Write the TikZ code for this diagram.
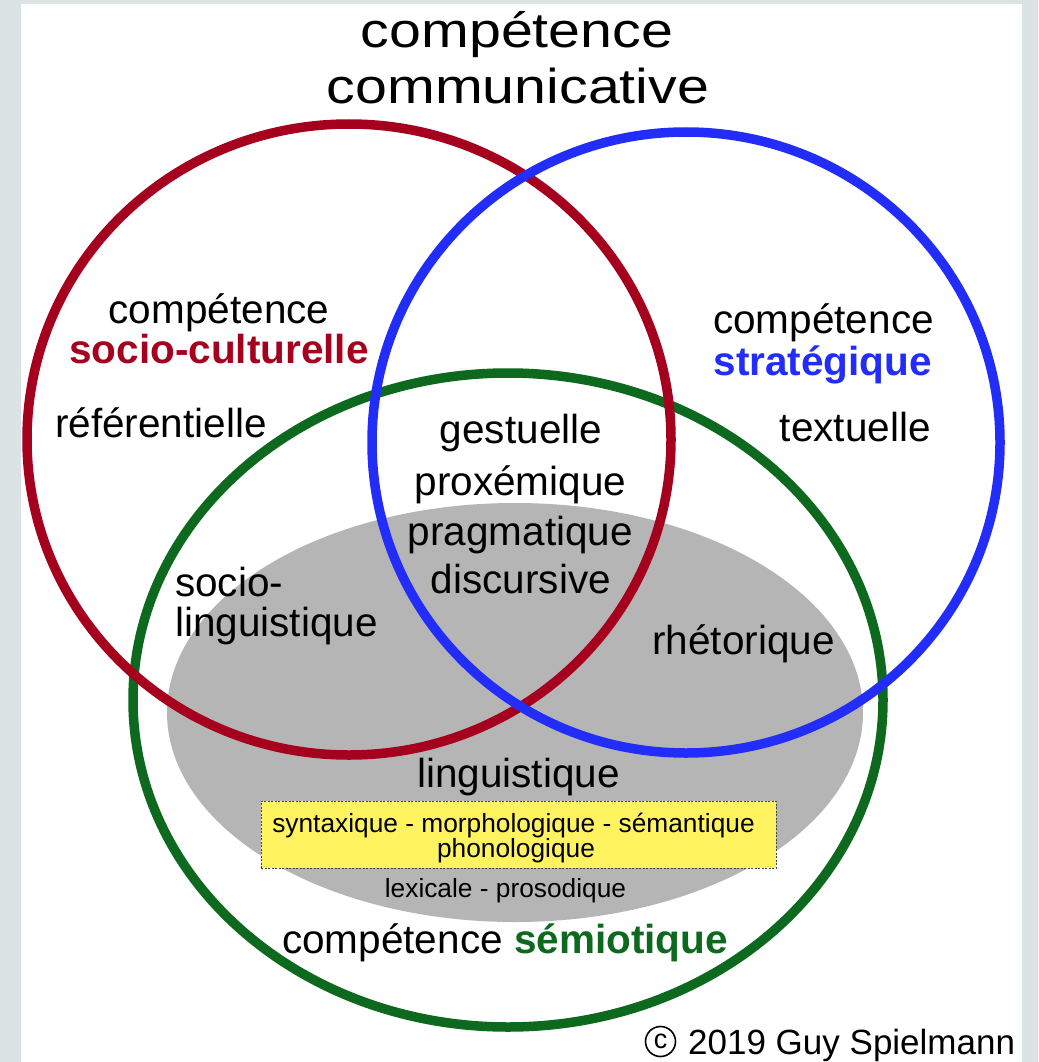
\documentclass[tikz,border=0pt]{standalone}
\usepackage{fontspec}
\setmainfont{Liberation Sans}
\usepackage{graphicx}

\definecolor{frame}{RGB}{220,227,229}
\definecolor{socred}{RGB}{165,0,30}
\definecolor{strblue}{RGB}{35,45,250}
\definecolor{semgreen}{RGB}{12,105,30}
\definecolor{lingray}{RGB}{181,181,181}
\definecolor{boxyellow}{RGB}{255,244,95}
\definecolor{boxedge}{RGB}{70,70,50}

\begin{document}
\begin{tikzpicture}[x=1pt,y=-1pt,
  ring/.style={line width=9.5pt},
  lbl/.style={anchor=base, inner sep=0pt, font=\fontsize{40.5}{40.5}\selectfont},
  lbll/.style={lbl, anchor=base west},
  lblr/.style={lbl, anchor=base east},
  small/.style={anchor=base, inner sep=0pt, font=\fontsize{26.3}{26.3}\selectfont},
  titlefont/.style={anchor=base, inner sep=0pt, font=\fontsize{49}{49}\selectfont},
  subbox/.style={draw=boxedge, fill=boxyellow, line width=1pt,
    dash pattern=on 2pt off 1.5pt, inner sep=0pt,
    minimum width=515pt, minimum height=67pt},
  copymark/.style={circle, draw, line width=1.6pt, inner sep=0pt,
    minimum size=30pt, font=\fontsize{27}{27}\selectfont},
]
\useasboundingbox (0,0) rectangle (1038,1062);

% page frame and white sheet
\fill[frame] (0,0) rectangle (1038,1062);
\fill[white] (21,4) rectangle (1022,1062);

% linguistic core
\fill[lingray] (515,712.5) ellipse [x radius=348pt, y radius=209.5pt];
\node[subbox] (sub) at (518.5,834.5) {};

% the three competences
\draw[ring, semgreen] (508,700) ellipse [x radius=375pt, y radius=327pt];
\draw[ring, socred] (349,439.5) ellipse [x radius=322pt, y radius=315.5pt];
\draw[ring, strblue] (686,442.5) ellipse [x radius=314pt, y radius=310.5pt];

% title
\node[titlefont] (t1) at (517,48) {\scalebox{1.17}[1]{compétence}};
\node[titlefont] (t2) at (518,103) {\scalebox{1.17}[1]{communicative}};

% socio-cultural
\node[lbl] (sc1) at (219,323) {compétence};
\node[lbl, text=socred, font=\fontsize{40.5}{40.5}\selectfont\bfseries] (sc2) at (219,363) {socio-culturelle};
\node[lbll] (ref) at (55,437) {référentielle};

% strategic
\node[lblr] (st1) at (934,333) {compétence};
\node[lblr, text=strblue, font=\fontsize{40.5}{40.5}\selectfont\bfseries] (st2) at (932,375) {stratégique};
\node[lblr] (txt) at (931,441) {textuelle};

% shared centre
\node[lbl] (ge) at (521,443) {gestuelle};
\node[lbl] (pr) at (520.5,495) {proxémique};
\node[lbl] (pg) at (520.5,545) {pragmatique};
\node[lbl] (di) at (521,593) {discursive};

\node[lbll] (so1) at (175,596) {socio-};
\node[lbll] (so2) at (175,636) {linguistique};
\node[lbl] (rh) at (743.5,654) {rhétorique};

% linguistic
\node[lbl] (li) at (518.5,787) {linguistique};
\node[small] (sub1) at (513.5,832) {syntaxique - morphologique - sémantique};
\node[small] (sub2) at (516,857) {phonologique};
\node[small] (lex) at (505.5,897) {lexicale - prosodique};

% semiotic
\node[lbl] (se) at (505,953) {compétence \textcolor{semgreen}{\bfseries sémiotique}};

% credit
\node[copymark] (cc) at (660.5,1041.5) {\raisebox{1.5pt}{c}};
\node[anchor=base west, inner sep=0pt, font=\fontsize{35}{35}\selectfont] (cr) at (688,1054)
  {2019 Guy Spielmann};
\end{tikzpicture}
\end{document}
